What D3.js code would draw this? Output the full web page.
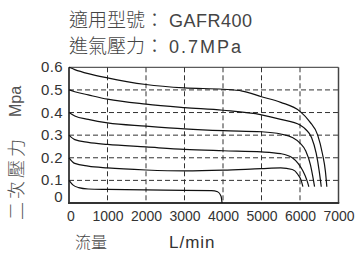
<!DOCTYPE html>
<html>
<head>
<meta charset="utf-8">
<script src="https://cdn.jsdelivr.net/npm/d3@7"></script>
<style>
  body { margin: 0; background: #fff; }
  svg { display: block; }
  text { fill: #333; }
  .num { font-family: 'Liberation Sans', Arial, sans-serif; }
  .cjk { font-family: 'Noto Sans CJK TC', 'Noto Sans CJK SC', sans-serif; font-weight: 300; }
</style>
</head>
<body>
<svg id="chart" width="356" height="254"></svg>
<script>
// values
const xTicks = [0, 1000, 2000, 3000, 4000, 5000, 6000, 7000];
const yTicks = [0, 0.1, 0.2, 0.3, 0.4, 0.5, 0.6];

const flow06 = [0, 150, 500, 1000, 1500, 2000, 3000, 4000, 4500, 5000, 5500, 6000, 6250, 6460, 6580, 6660, 6697];
const pres06 = [0.6, 0.59, 0.572, 0.553, 0.537, 0.524, 0.509, 0.503, 0.495, 0.47, 0.445, 0.405, 0.36, 0.3, 0.22, 0.14, 0.072];

const flow05 = [0, 150, 500, 1000, 2000, 3000, 4000, 5000, 5500, 6000, 6150, 6300, 6420, 6500, 6552];
const pres05 = [0.5, 0.492, 0.478, 0.459, 0.437, 0.422, 0.41, 0.39, 0.37, 0.345, 0.325, 0.29, 0.22, 0.14, 0.072];

const flow04 = [0, 150, 500, 1000, 2000, 3000, 4000, 5000, 5500, 5800, 6000, 6150, 6270, 6340, 6378];
const pres04 = [0.4, 0.385, 0.37, 0.354, 0.34, 0.328, 0.32, 0.315, 0.305, 0.29, 0.265, 0.23, 0.17, 0.11, 0.072];

const flow03 = [0, 150, 500, 1000, 2000, 3000, 4000, 5000, 5500, 5800, 5950, 6080, 6180, 6230];
const pres03 = [0.3, 0.28, 0.268, 0.259, 0.248, 0.237, 0.231, 0.226, 0.218, 0.2, 0.175, 0.14, 0.1, 0.072];

const flow02 = [0, 150, 500, 1000, 2000, 3000, 4000, 5000, 5500, 5800, 5950, 6030, 6075];
const pres02 = [0.2, 0.175, 0.163, 0.155, 0.146, 0.142, 0.145, 0.152, 0.155, 0.148, 0.125, 0.1, 0.072];

const flow01 = [0, 100, 250, 500, 1000, 2000, 3000, 3700, 3860, 3950, 3975];
const pres01 = [0.1, 0.08, 0.068, 0.062, 0.06, 0.058, 0.056, 0.055, 0.05, 0.03, 0];

const series = [
  [flow06, pres06], [flow05, pres05], [flow04, pres04],
  [flow03, pres03], [flow02, pres02], [flow01, pres01]
];

const svg = d3.select('#chart');

const x = d3.scaleLinear().domain([0, 7000]).range([69, 338.5]);
const y = d3.scaleLinear().domain([0, 0.6]).range([203, 67.3]);

// title lines
svg.append('text').attr('class', 'cjk')
  .attr('x', 69).attr('y', 27)
  .style('font-size', '19px')
  .style('fill', '#444')
  .text('適用型號：')
  .append('tspan').attr('class', 'num')
  .attr('dx', 5)
  .style('font-size', '18px')
  .style('letter-spacing', '0.5px')
  .text('GAFR400');
svg.append('text').attr('class', 'cjk')
  .attr('x', 69).attr('y', 53)
  .style('font-size', '19px')
  .style('fill', '#444')
  .text('進氣壓力：')
  .append('tspan').attr('class', 'num')
  .attr('dx', 5)
  .style('font-size', '18px')
  .style('letter-spacing', '2px')
  .text('0.7MPa');

// dashed grid
svg.append('g')
  .selectAll('line')
  .data(xTicks.slice(1, -1))
  .enter()
  .append('line')
  .attr('x1', d => x(d)).attr('x2', d => x(d))
  .attr('y1', y(0.6)).attr('y2', y(0))
  .style('stroke', '#333')
  .style('stroke-width', 1)
  .style('stroke-dasharray', '5,3');

svg.append('g')
  .selectAll('line')
  .data(yTicks.slice(1, -1))
  .enter()
  .append('line')
  .attr('x1', x(0)).attr('x2', x(7000))
  .attr('y1', d => y(d)).attr('y2', d => y(d))
  .style('stroke', '#333')
  .style('stroke-width', 1)
  .style('stroke-dasharray', '5,3');

// frame
svg.append('line')
  .attr('x1', x(0)).attr('x2', x(7000)).attr('y1', y(0.6)).attr('y2', y(0.6))
  .style('stroke', '#333').style('stroke-width', 1);
svg.append('line')
  .attr('x1', x(7000)).attr('x2', x(7000)).attr('y1', y(0.6)).attr('y2', y(0))
  .style('stroke', '#444').style('stroke-width', 1.5);
svg.append('line')
  .attr('x1', x(0)).attr('x2', x(0)).attr('y1', y(0.6)).attr('y2', y(0) + 1)
  .style('stroke', '#333').style('stroke-width', 1.8);
svg.append('line')
  .attr('x1', x(0) - 1).attr('x2', x(7000) + 0.75).attr('y1', y(0)).attr('y2', y(0))
  .style('stroke', '#333').style('stroke-width', 1.8);

// curves
const line = d3.line()
  .x(d => x(d[0]))
  .y(d => y(d[1]))
  .curve(d3.curveMonotoneX);

svg.append('g')
  .selectAll('path')
  .data(series.map(s => d3.zip(s[0], s[1])))
  .enter()
  .append('path')
  .attr('d', line)
  .style('fill', 'none')
  .style('stroke', '#111')
  .style('stroke-width', 1.2);

// tick labels
svg.append('g')
  .selectAll('text')
  .data(xTicks)
  .enter()
  .append('text')
  .attr('class', 'num')
  .attr('x', d => d === 0 ? x(d) + 2 : x(d) + 0.5)
  .attr('y', y(0) + 18)
  .attr('text-anchor', 'middle')
  .style('font-size', '14px')
  .text(d => d);

svg.append('g')
  .selectAll('text')
  .data(yTicks)
  .enter()
  .append('text')
  .attr('class', 'num')
  .attr('x', 63)
  .attr('y', d => d === 0 ? y(d) - 1.3 : y(d) + 5)
  .attr('text-anchor', 'end')
  .style('font-size', '15px')
  .style('letter-spacing', '0.4px')
  .text(d => d === 0 ? '0' : d.toFixed(1));

// axis titles
svg.append('text').attr('class', 'cjk')
  .attr('x', 75).attr('y', 248)
  .style('font-size', '16px')
  .style('fill', '#444')
  .text('流量');
svg.append('text').attr('class', 'num')
  .attr('x', 169).attr('y', 248)
  .style('font-size', '17px')
  .style('letter-spacing', '1px')
  .text('L/min');

const yTitle = svg.append('g').attr('transform', 'translate(23, 220) rotate(-90)');
yTitle.append('text').attr('class', 'cjk')
  .attr('x', 0).attr('y', 0)
  .style('font-size', '18px')
  .style('letter-spacing', '3px')
  .style('fill', '#555')
  .text('二次壓力');
yTitle.append('text').attr('class', 'num')
  .attr('x', 103).attr('y', -2)
  .style('font-size', '16px')
  .style('fill', '#555')
  .text('Mpa');
</script>
</body>
</html>
